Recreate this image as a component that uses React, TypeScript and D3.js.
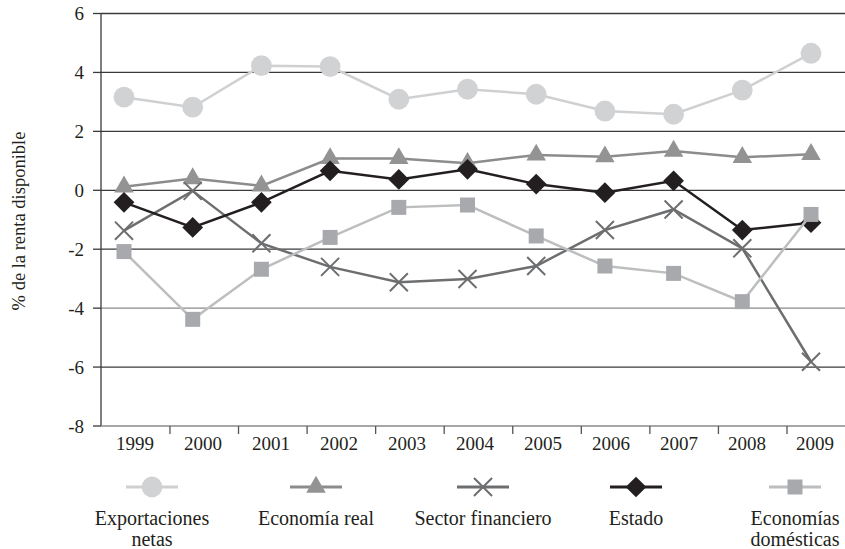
import * as d3 from "d3";

const years = ["1999", "2000", "2001", "2002", "2003", "2004", "2005", "2006", "2007", "2008", "2009"];
const yTicks = [6, 4, 2, 0, -2, -4, -6, -8];

const exportaciones = [3.16, 2.82, 4.23, 4.2, 3.09, 3.43, 3.26, 2.69, 2.58, 3.4, 4.65];
const economiaReal = [0.12, 0.4, 0.15, 1.08, 1.08, 0.92, 1.2, 1.14, 1.33, 1.12, 1.22];
const sectorFinanciero = [-1.37, -0.02, -1.8, -2.6, -3.12, -3.01, -2.57, -1.35, -0.65, -1.97, -5.82];
const estado = [-0.41, -1.26, -0.41, 0.66, 0.37, 0.71, 0.21, -0.08, 0.32, -1.35, -1.1];
const domesticas = [-2.08, -4.38, -2.68, -1.6, -0.58, -0.5, -1.55, -2.57, -2.82, -3.78, -0.82];

const series = [
    { name: ["Exportaciones", "netas"], values: exportaciones, line: "#cfd0d2", fill: "#d1d2d4", shape: "circle", lx: 152 },
    { name: ["Economía real"], values: economiaReal, line: "#8c8c8c", fill: "#939393", shape: "triangle", lx: 316 },
    { name: ["Sector financiero"], values: sectorFinanciero, line: "#6d6e70", fill: "#6d6e70", shape: "x", lx: 483 },
    { name: ["Estado"], values: estado, line: "#231f20", fill: "#231f20", shape: "diamond", lx: 636 },
    { name: ["Economías", "domésticas"], values: domesticas, line: "#bcbec0", fill: "#a7a9ac", shape: "square", lx: 795 },
];

const width = 845;
const height = 549;
const plotLeft = 101;
const plotRight = 845;
const plotTop = 13.5;
const plotBottom = 426;
const font = "'Liberation Serif', 'Times New Roman', serif";
const textColor = "#231f20";

const y = d3.scaleLinear().domain([-8, 6]).range([plotBottom, plotTop]);
const xPt = d3.scalePoint().domain(years).range([124, 811]);
const xLab = d3.scalePoint().domain(years).range([135, 815]);
const xBand = d3.scaleBand().domain(years).range([101.4, 101.4 + 11 * 68.56]);

const line = d3.line<number>().x((_, i) => xPt(years[i])!).y(d => y(d));

function Marker({ shape, fill, x, yy }: { shape: string, fill: string, x: number, yy: number }) {
    if (shape === "circle") {
        return <path d={d3.symbol(d3.symbolCircle, 340)()!} transform={`translate(${x},${yy})`} fill={fill} />;
    }
    if (shape === "triangle") {
        return <path d={d3.symbol(d3.symbolTriangle, 165)()!} transform={`translate(${x},${yy})`} fill={fill} />;
    }
    if (shape === "square") {
        return <path d={d3.symbol(d3.symbolSquare, 225)()!} transform={`translate(${x},${yy})`} fill={fill} />;
    }
    if (shape === "diamond") {
        return <path d={d3.symbol(d3.symbolSquare, 215)()!} transform={`translate(${x},${yy}) rotate(45)`} fill={fill} />;
    }
    return <path d={d3.symbol(d3.symbolTimes, 214)()!} transform={`translate(${x},${yy})`} fill="none" stroke={fill} strokeWidth={2} />;
}

export default function App() {
    return (
        <svg width={width} height={height} style={{ position: "absolute", left: 0, top: 0, background: "#fff" }}
             fontFamily={font} fill={textColor}>
            {/* gridlines */}
            {yTicks.filter(t => t !== -8).map(t => (
                <line key={t} x1={plotLeft} x2={plotRight} y1={y(t)} y2={y(t)}
                      stroke={t === -4 ? "#8a8a8a" : "#3a3a3a"} strokeWidth={1.3} />
            ))}
            {/* y axis */}
            <line x1={plotLeft} x2={plotLeft} y1={plotTop} y2={plotBottom} stroke="#3a3a3a" strokeWidth={1.3} />
            {yTicks.map(t => (
                <g key={t}>
                    <line x1={93} x2={plotLeft} y1={y(t)} y2={y(t)} stroke="#3a3a3a" strokeWidth={1.3} />
                    <text x={84} y={y(t)} dy="0.35em" textAnchor="end" fontSize={19}>{t}</text>
                </g>
            ))}
            {/* x axis */}
            <line x1={plotLeft} x2={plotRight} y1={plotBottom} y2={plotBottom} stroke="#8a8a8a" strokeWidth={1.3} />
            {years.slice(1).map(yr => (
                <line key={yr} x1={xBand(yr)} x2={xBand(yr)} y1={plotBottom} y2={plotBottom + 8} stroke="#555" strokeWidth={1.3} />
            ))}
            {years.map(yr => (
                <text key={yr} x={xLab(yr)} y={443} dy="0.35em" textAnchor="middle" fontSize={19}>{yr}</text>
            ))}
            <text transform={`translate(19,${221}) rotate(-90)`} textAnchor="middle" dy="0.35em" fontSize={18.5}>
                % de la renta disponible
            </text>
            {/* series */}
            {series.map(s => (
                <g key={s.name.join(" ")}>
                    <path d={line(s.values)!} fill="none" stroke={s.line} strokeWidth={2.5} />
                    {s.values.map((v, i) => (
                        <Marker key={i} shape={s.shape} fill={s.fill} x={xPt(years[i])!} yy={y(v)} />
                    ))}
                </g>
            ))}
            {/* legend */}
            {series.map(s => (
                <g key={"lg" + s.name.join(" ")}>
                    <line x1={s.lx - 26} x2={s.lx + 26} y1={487} y2={487} stroke={s.line} strokeWidth={3} />
                    <Marker shape={s.shape} fill={s.fill} x={s.lx} yy={487} />
                    {s.name.map((n, j) => (
                        <text key={j} x={s.lx} y={518 + j * 21} dy="0.35em" textAnchor="middle" fontSize={20}>{n}</text>
                    ))}
                </g>
            ))}
        </svg>
    );
}
